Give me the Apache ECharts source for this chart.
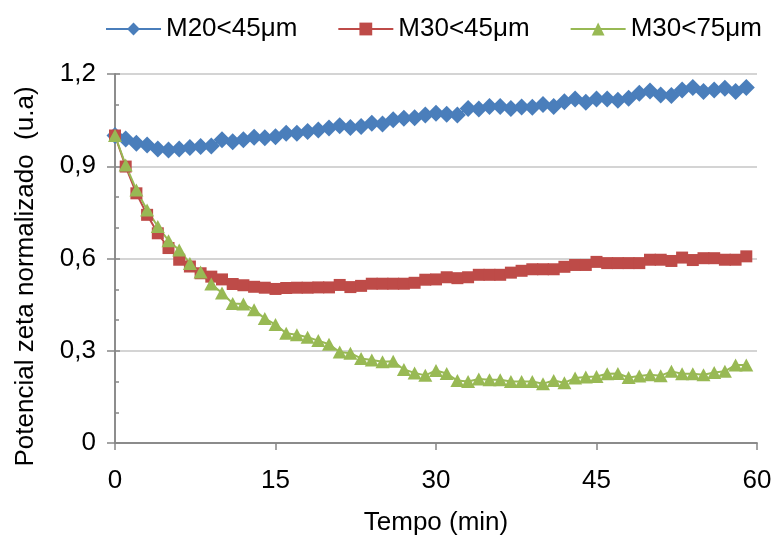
<!DOCTYPE html>
<html>
<head>
<meta charset="utf-8">
<script src="https://cdn.jsdelivr.net/npm/echarts@6/dist/echarts.min.js"></script>
<style>html,body{margin:0;padding:0;background:#fff}#c{width:776px;height:549px}</style>
</head>
<body>
<div id="c"></div>
<script>
var tempo = [0,1,2,3,4,5,6,7,8,9,10,11,12,13,14,15,16,17,18,19,20,21,22,23,24,25,26,27,28,29,30,31,32,33,34,35,36,37,38,39,40,41,42,43,44,45,46,47,48,49,50,51,52,53,54,55,56,57,58,59];
var m20_45 = [1.000,0.989,0.975,0.969,0.956,0.953,0.956,0.961,0.964,0.966,0.986,0.980,0.986,0.994,0.993,0.996,1.007,1.007,1.013,1.018,1.024,1.032,1.026,1.029,1.040,1.037,1.051,1.056,1.058,1.067,1.072,1.069,1.067,1.088,1.086,1.094,1.094,1.088,1.093,1.092,1.101,1.094,1.110,1.119,1.108,1.119,1.119,1.115,1.121,1.137,1.145,1.132,1.130,1.148,1.156,1.143,1.148,1.154,1.143,1.156];
var m30_45 = [1.000,0.899,0.812,0.742,0.682,0.634,0.596,0.574,0.552,0.541,0.532,0.517,0.513,0.508,0.505,0.501,0.504,0.505,0.505,0.506,0.506,0.514,0.507,0.511,0.518,0.518,0.518,0.518,0.521,0.531,0.532,0.539,0.536,0.539,0.547,0.547,0.547,0.554,0.560,0.565,0.565,0.565,0.573,0.579,0.579,0.589,0.585,0.585,0.585,0.585,0.596,0.596,0.592,0.603,0.595,0.601,0.601,0.596,0.596,0.607];
var m30_75 = [1.000,0.904,0.823,0.758,0.704,0.658,0.628,0.584,0.556,0.517,0.488,0.454,0.452,0.433,0.405,0.385,0.357,0.352,0.344,0.333,0.321,0.296,0.292,0.275,0.270,0.264,0.266,0.239,0.228,0.220,0.236,0.226,0.203,0.200,0.208,0.206,0.206,0.200,0.200,0.200,0.193,0.203,0.196,0.211,0.215,0.216,0.225,0.226,0.213,0.218,0.222,0.219,0.233,0.225,0.225,0.222,0.229,0.233,0.254,0.254];
var seriesNames = ['M20<45μm','M30<45μm','M30<75μm'];
var xTitle = 'Tempo (min)';
var yTitle = 'Potencial zeta normalizado  (u.a)';

function pairs(ys){ return tempo.map(function(t,i){ return [t, ys[i]]; }); }
var FONT = 'Liberation Sans, Arial, sans-serif';
var AX = '#868686';
var FS = 26;

var chart = echarts.init(document.getElementById('c'), null, {renderer:'canvas'});
chart.setOption({
  animation:false,
  backgroundColor:'#fff',
  textStyle:{fontFamily:FONT},
  legend:{
    top:11, left:100,
    itemWidth:55, itemHeight:16, itemGap:40,
    textStyle:{fontSize:FS, color:'#000', fontFamily:FONT},
    data:seriesNames
  },
  grid:{left:115, right:19, top:74, bottom:106, containLabel:false},
  xAxis:[{
    type:'value', min:0, max:60, interval:15,
    name:xTitle, nameLocation:'middle', nameGap:67,
    nameTextStyle:{fontSize:FS, color:'#000', fontFamily:FONT},
    axisLine:{show:true, onZero:false, lineStyle:{color:AX, width:1.5}},
    axisTick:{show:true, inside:false, length:7, lineStyle:{color:AX, width:1.5}},
    axisLabel:{fontSize:FS, color:'#000', margin:25, fontFamily:FONT},
    splitLine:{show:false}
  },{
    type:'value', min:0, max:60, interval:15, position:'top',
    axisLine:{show:true, lineStyle:{color:AX, width:1.5}},
    axisTick:{show:false}, axisLabel:{show:false}, splitLine:{show:false}
  }],
  yAxis:[{
    type:'value', min:0, max:1.2, interval:0.3,
    name:yTitle, nameLocation:'middle', nameGap:76, nameRotate:90,
    nameTextStyle:{fontSize:26, color:'#000', fontFamily:FONT, padding:[0,36,0,0]},
    axisLine:{show:true, onZero:false, lineStyle:{color:AX, width:1.5}},
    axisTick:{show:true, inside:false, length:8, lineStyle:{color:AX, width:1.5}},
    axisLabel:{fontSize:FS, color:'#000', margin:19, fontFamily:FONT,
      formatter:function(v){ return v===0 ? '0' : v.toFixed(1).replace('.', ','); }},
    splitLine:{show:true, lineStyle:{color:'#c6c6c6', width:1.5}}
  },{
    type:'value', min:0, max:1.2, interval:0.3, position:'left', offset:0,
    axisLine:{show:false},
    axisTick:{show:true, inside:true, length:5, lineStyle:{color:AX, width:1.5}},
    minorTick:{show:true, splitNumber:3, length:4, lineStyle:{color:AX, width:1.5}},
    axisLabel:{show:false}, splitLine:{show:false}
  },{
    type:'value', min:0, max:1.2, interval:0.3, position:'right',
    axisLine:{show:true, lineStyle:{color:AX, width:1.5}},
    axisTick:{show:false}, axisLabel:{show:false}, splitLine:{show:false}
  }],
  series:[{
    name:seriesNames[0], type:'line', data:pairs(m20_45),
    symbol:'diamond', symbolSize:[17,17],
    itemStyle:{color:'#4A7EBB'}, lineStyle:{color:'#4A7EBB', width:2}
  },{
    name:seriesNames[1], type:'line', data:pairs(m30_45),
    symbol:'rect', symbolSize:12,
    itemStyle:{color:'#BE4B48'}, lineStyle:{color:'#BE4B48', width:2}
  },{
    name:seriesNames[2], type:'line', data:pairs(m30_75),
    symbol:'triangle', symbolSize:[14,13],
    itemStyle:{color:'#98B954'}, lineStyle:{color:'#98B954', width:2}
  }]
});
</script>
</body>
</html>
